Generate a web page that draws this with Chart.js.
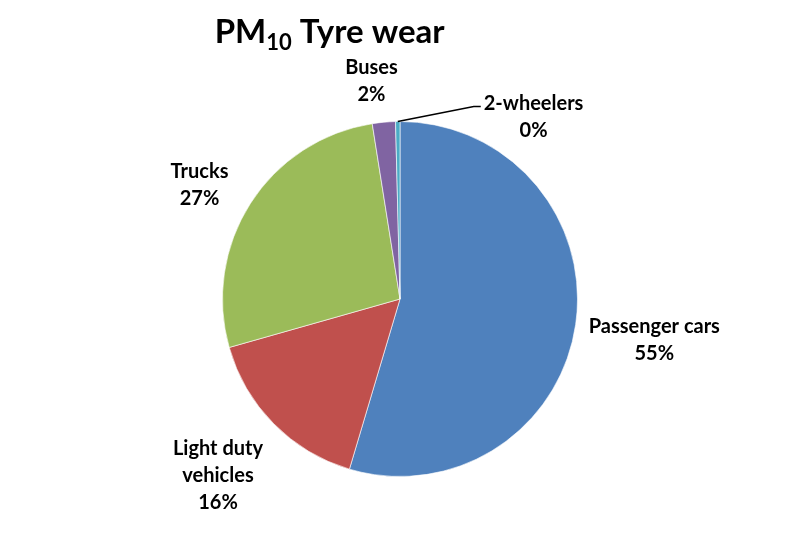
<!DOCTYPE html>
<html lang="en">
<head>
    <meta charset="UTF-8">
    <title>PM10 Tyre wear</title>
    <script src="https://cdn.jsdelivr.net/npm/chart.js@4/dist/chart.umd.min.js"></script>
    <style>
        body { margin: 0; background: #fff; }
        #wrap { width: 800px; height: 537px; }
    </style>
</head>
<body>
    <div id="wrap"><canvas id="chart"></canvas></div>

    <script>
    // data
    const categories = ['Passenger cars', 'Light duty vehicles', 'Trucks', 'Buses', '2-wheelers'];
    const labelLines = [['Passenger cars'], ['Light duty', 'vehicles'], ['Trucks'], ['Buses'], ['2-wheelers']];
    const shares = [54.6, 16.0, 26.9, 2.1, 0.4];
    const shownPct = ['55%', '16%', '27%', '2%', '0%'];
    const colors = ['#4F81BD', '#C0504D', '#9BBB59', '#8064A2', '#4BACC6'];

    const FONT = 'Lato, Calibri, "Open Sans", sans-serif';

    // title with subscript
    const titlePlugin = {
        id: 'subTitle',
        afterDraw(chart) {
            const ctx = chart.ctx;
            ctx.save();
            ctx.fillStyle = '#000';
            ctx.textBaseline = 'alphabetic';
            const big = 'bold 33px ' + FONT, small = 'bold 22px ' + FONT;
            ctx.font = big;
            const w1 = ctx.measureText('PM').width;
            const w3 = ctx.measureText(' Tyre wear').width;
            ctx.font = small;
            const w2 = ctx.measureText('10').width;
            let x = chart.width * 0.412 - (w1 + w2 + w3) / 2;
            const y = 43;
            ctx.font = big;
            ctx.fillText('PM', x, y);
            x += w1;
            ctx.font = small;
            ctx.fillText('10', x, y + 7);
            x += w2;
            ctx.font = big;
            ctx.fillText(' Tyre wear', x, y);
            ctx.restore();
        }
    };

    // outside labels, Excel-like
    const labelPlugin = {
        id: 'outLabels',
        afterDraw(chart) {
            const ctx = chart.ctx;
            const meta = chart.getDatasetMeta(0);
            ctx.save();
            ctx.font = 'bold 20px ' + FONT;
            ctx.fillStyle = '#000';
            ctx.textAlign = 'center';
            ctx.textBaseline = 'middle';
            const lh = 27;
            meta.data.forEach((arc, i) => {
                const p = arc.getProps(['x', 'y', 'startAngle', 'endAngle', 'outerRadius']);
                const lines = labelLines[i].concat([shownPct[i]]);
                const w = Math.max(...lines.map(t => ctx.measureText(t).width));
                const h = lines.length * lh;
                let cx, cy;
                if (shares[i] < 1) {
                    // tiny slice: leader line out to the right
                    const a = (p.startAngle + p.endAngle) / 2;
                    const ex = p.x + Math.cos(a) * p.outerRadius;
                    const ey = p.y + Math.sin(a) * p.outerRadius;
                    const kx = ex + 76, ky = ey - 15;
                    ctx.strokeStyle = '#000';
                    ctx.lineWidth = 1.5;
                    ctx.beginPath();
                    ctx.moveTo(ex, ey);
                    ctx.lineTo(kx, ky);
                    ctx.lineTo(kx + 7, ky);
                    ctx.stroke();
                    cx = kx + 10 + w / 2;
                    cy = ky + h / 2 - lh / 2 - 3;
                } else {
                    const a = (p.startAngle + p.endAngle) / 2;
                    const dx = Math.cos(a), dy = Math.sin(a);
                    const r = p.outerRadius + 22;
                    cx = p.x + dx * r + dx * w / 2 - 8;
                    cy = p.y + dy * r + dy * h / 2 + 8;
                }
                const top = cy - h / 2 + lh / 2;
                lines.forEach((t, k) => ctx.fillText(t, cx, top + k * lh));
            });
            ctx.restore();
        }
    };

    const ctx = document.getElementById('chart').getContext('2d');
    new Chart(ctx, {
        type: 'pie',
        data: {
            labels: categories,
            datasets: [{
                data: shares,
                backgroundColor: colors,
                borderColor: 'rgba(255,255,255,0.6)',
                borderWidth: 1
            }]
        },
        options: {
            responsive: true,
            maintainAspectRatio: false,
            animation: false,
            layout: { padding: { top: 121, bottom: 60, left: 200, right: 200 } },
            plugins: {
                legend: { display: false },
                tooltip: { enabled: false }
            }
        },
        plugins: [titlePlugin, labelPlugin]
    });
    </script>
</body>
</html>
